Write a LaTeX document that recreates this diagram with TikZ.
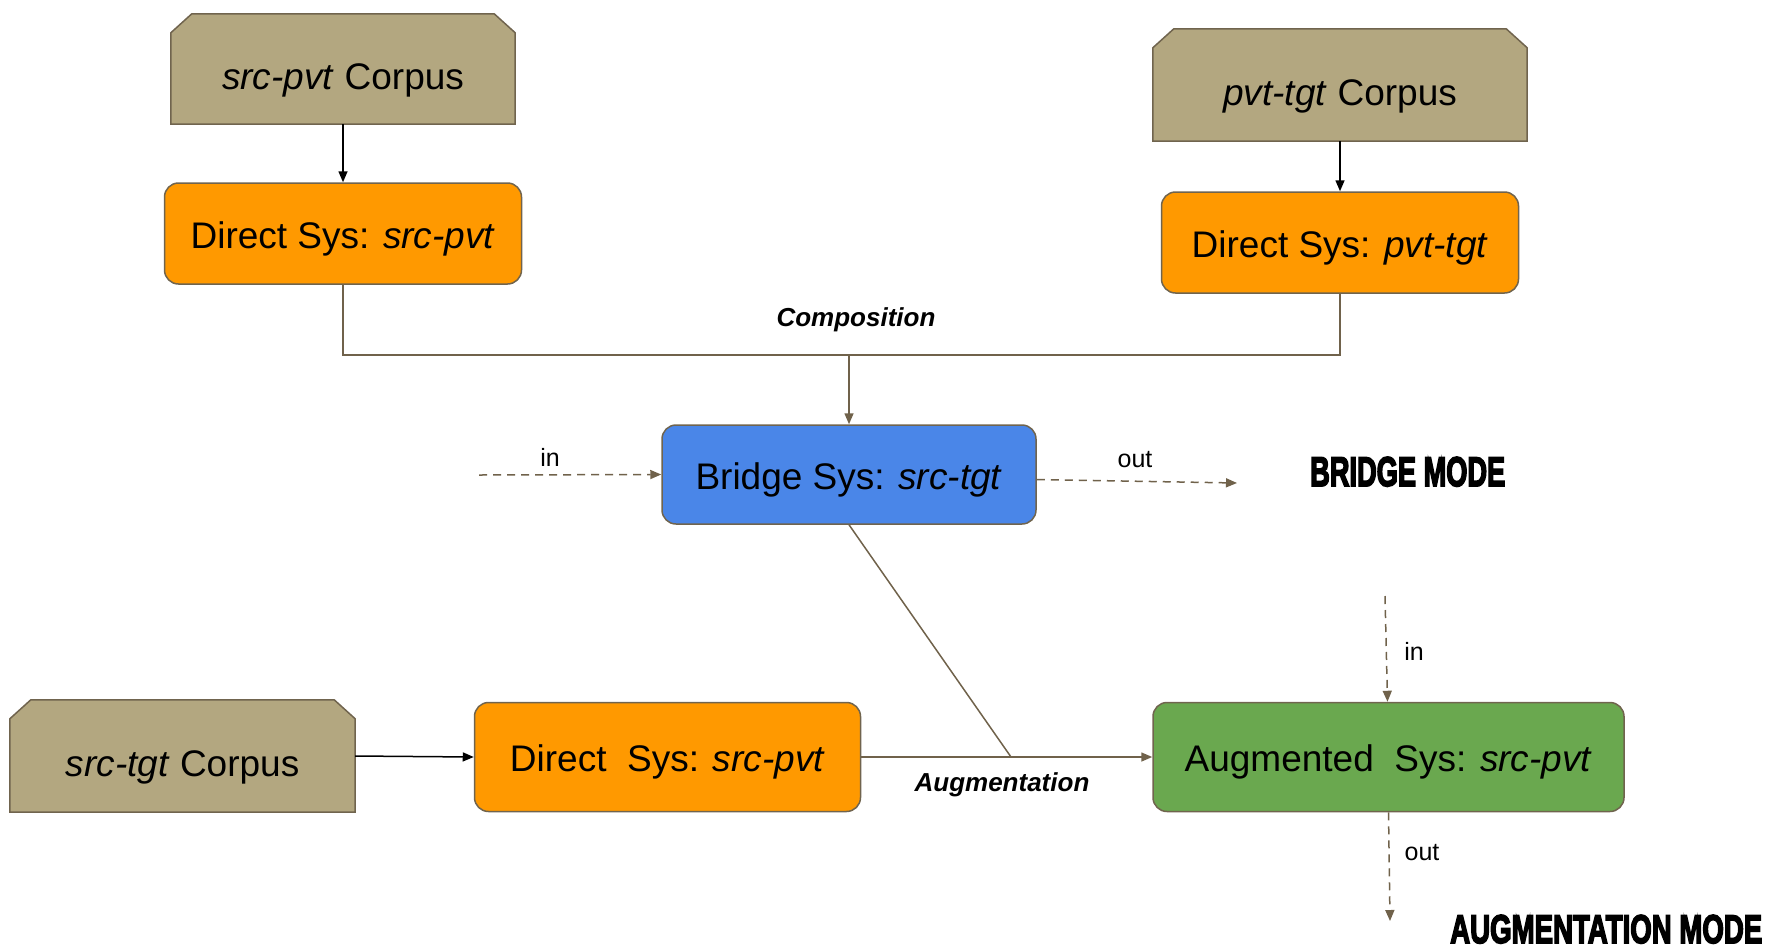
\documentclass[tikz,border=0pt]{standalone}
\usepackage{fontspec}
\setmainfont{Liberation Sans}
\newfontfamily\modefont[BoldFeatures={FakeBold=4.5}]{Liberation Sans}
\usetikzlibrary{arrows.meta,backgrounds,calc}
\definecolor{corpusfill}{RGB}{179,167,128}
\definecolor{bordc}{RGB}{112,100,78}
\definecolor{orangef}{RGB}{255,153,0}
\definecolor{bluef}{RGB}{74,134,232}
\definecolor{greenf}{RGB}{106,168,79}
\definecolor{linec}{RGB}{112,98,75}
\begin{document}
\begin{tikzpicture}[x=1pt,y=-1pt,
  every node/.style={font=\fontsize{37}{44}\selectfont},
  sysbox/.style={draw=bordc, line width=1.5pt, rounded corners=14pt, inner sep=0pt, text height=29pt, text depth=0pt},
  corpusnode/.style={draw=none, inner sep=0pt, text height=40pt, text depth=0pt},
  corpusshape/.style={fill=corpusfill, draw=bordc, line width=1.5pt},
  conn/.style={draw=linec, line width=1.5pt},
  connarr/.style={conn, -{Triangle[length=11pt,width=9pt]}},
  blkarr/.style={draw=black, line width=1.5pt, -{Triangle[length=11pt,width=9pt]}},
  dasharr/.style={draw=linec, line width=1.5pt, dash pattern=on 8pt off 6pt, -{Triangle[length=11pt,width=9pt]}},
  lbl/.style={font=\fontsize{25}{30}\selectfont, inner sep=0pt},
  blbl/.style={font=\fontsize{26}{31}\selectfont\bfseries\itshape, inner sep=0pt},
  modelbl/.style={anchor=base west, inner sep=0pt, font=\modefont\bfseries}
]
\useasboundingbox (0,0) rectangle (1771,948);

% corpora
\node[corpusnode, minimum width=344pt, minimum height=110pt] (c1) at (343,69) {\textit{src-pvt} Corpus};
\node[corpusnode, minimum width=374pt, minimum height=112pt] (c2) at (1340,85) {\textit{pvt-tgt} Corpus};
\node[corpusnode, minimum width=345pt, minimum height=112pt] (c3) at (182.5,756) {\textit{src-tgt} Corpus};
\begin{scope}[on background layer]
\foreach \n in {c1,c2,c3}
  \path[corpusshape] ([yshift=-19pt]\n.north west) -- ([xshift=21pt]\n.north west)
     -- ([xshift=-21pt]\n.north east) -- ([yshift=-19pt]\n.north east)
     -- (\n.south east) -- (\n.south west) -- cycle;
\end{scope}

% systems
\node[sysbox, fill=orangef, minimum width=357pt, minimum height=101pt] (d1) at (343,233.5) {Direct Sys: \textit{src-pvt}};
\node[sysbox, fill=orangef, minimum width=357pt, minimum height=101pt] (d2) at (1340,242.5) {Direct Sys: \textit{pvt-tgt}};
\node[sysbox, fill=bluef, minimum width=374pt, minimum height=99pt] (br) at (849,474.5) {Bridge Sys: \textit{src-tgt}\hspace{20pt}};
\node[sysbox, fill=orangef, minimum width=386pt, minimum height=109pt] (d3) at (667.5,757) {Direct\ \ Sys: \textit{src-pvt}\hspace{22pt}};
\node[sysbox, fill=greenf, minimum width=471pt, minimum height=109pt] (ag) at (1388.5,757) {Augmented\ \ Sys: \textit{src-pvt}\hspace{14pt}};

% corpus arrows
\draw[blkarr] (c1.south) -- (d1.north);
\draw[blkarr] (c2.south) -- (d2.north);
\draw[blkarr] (c3.east) -- (d3.west);

% composition
\coordinate (jm) at (849,355);
\draw[conn] (d1.south) |- (d2.south |- jm) -- (d2.south);
\draw[connarr] (jm) -- (br.north);
\node[blbl] (comp) at (856,320) {Composition};

% augmentation
\coordinate (j2) at (1011,757);
\draw[connarr] (d3.east) -- (ag.west);
\draw[conn] (br.south) -- (j2);
\node[blbl] (augl) at (1002,785) {Augmentation};

% bridge in / out
\coordinate (bin) at (479,475);
\coordinate (bout) at (1237,483);
\draw[dasharr] (bin) -- (br.west);
\draw[dasharr] ([yshift=-5pt]br.east) -- (bout);
\node[lbl] (in1) at (550,457) {in};
\node[lbl] (out1) at (1135,460) {out};

% augmented in / out
\coordinate (ain) at (1385,596);
\coordinate (aout) at (1390,921);
\draw[dasharr] (ain) -- ([xshift=-1pt]ag.north);
\draw[dasharr] (ag.south) -- (aout);
\node[lbl] (in2) at (1414,651) {in};
\node[lbl] (out2) at (1422,853) {out};

% mode titles
\node[modelbl] (bm) at (1310,486) {\resizebox{195pt}{29pt}{BRIDGE MODE}};
\node[modelbl] (am) at (1450,943) {\resizebox{312pt}{28pt}{AUGMENTATION MODE}};
\end{tikzpicture}
\end{document}
